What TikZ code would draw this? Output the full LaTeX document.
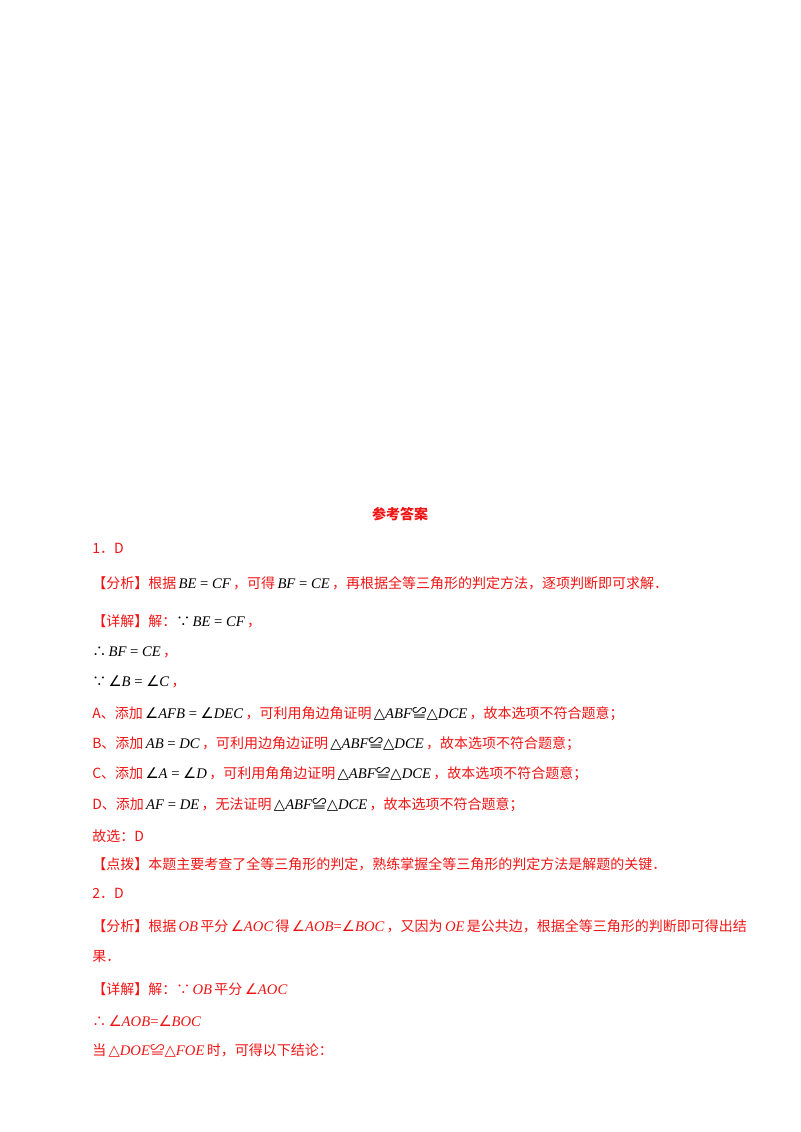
\documentclass[tikz,border=0pt]{standalone}
\usepackage{fontspec}
\setmainfont{Liberation Serif}
\newfontfamily\cjk{Noto Sans CJK SC}
\newfontfamily\lat{Liberation Serif}
\newfontfamily\dv{DejaVu Sans}
\definecolor{ansred}{RGB}{240,20,20}
\newcommand{\gA}{{\dv\upshape∠}}
\newcommand{\gT}{{\dv\upshape△}}
\newcommand{\gC}{{\cjk\upshape≌}}
\newcommand{\mb}[1]{\,\textcolor{black}{\lat\itshape\fontsize{11}{12}\selectfont #1}\,}
\newcommand{\mr}[1]{\,{\lat\itshape\fontsize{11}{12}\selectfont #1}\,}
\begin{document}
\begin{tikzpicture}[x=0.75pt,y=-0.75pt,
  ln/.style={anchor=west,inner sep=0pt,text=ansred,font=\cjk\fontsize{10.5}{12}\selectfont}]
\useasboundingbox (0,0) rectangle (800,1132);
\node[ln,anchor=center,font=\cjk\bfseries\fontsize{10.5}{12}\selectfont] (t) at (400,514) {参考答案};
\node[ln] (a1) at (92,548) {1．D};
\node[ln] (a2) at (92,583) {【分析】根据\mb{BE {\upshape=} CF}，可得\mb{BF {\upshape=} CE}，再根据全等三角形的判定方法，逐项判断即可求解．};
\node[ln] (a3) at (92,621) {【详解】解：\textcolor{black}{∵}\mb{BE {\upshape=} CF}，};
\node[ln] (a4) at (92,652) {\textcolor{black}{∴}\mb{BF {\upshape=} CE}，};
\node[ln] (a5) at (92,682) {\textcolor{black}{∵}\mb{\gA B {\upshape=} \gA C}，};
\node[ln] (a6) at (92,714) {A、添加\mb{\gA AFB {\upshape=} \gA DEC}，可利用角边角证明\mb{\gT ABF\gC\gT DCE}，故本选项不符合题意；};
\node[ln] (a7) at (92,744) {B、添加\mb{AB {\upshape=} DC}，可利用边角边证明\mb{\gT ABF\gC\gT DCE}，故本选项不符合题意；};
\node[ln] (a8) at (92,774) {C、添加\mb{\gA A {\upshape=} \gA D}，可利用角角边证明\mb{\gT ABF\gC\gT DCE}，故本选项不符合题意；};
\node[ln] (a9) at (92,805) {D、添加\mb{AF {\upshape=} DE}，无法证明\mb{\gT ABF\gC\gT DCE}，故本选项不符合题意；};
\node[ln] (a10) at (92,836) {故选：D};
\node[ln] (a11) at (92,864) {【点拨】本题主要考查了全等三角形的判定，熟练掌握全等三角形的判定方法是解题的关键．};
\node[ln] (b1) at (92,893) {2．D};
\node[ln] (b2) at (92,926) {【分析】根据\mr{OB}平分\mr{\gA AOC}得\mr{\gA AOB{\upshape=}\gA BOC}，又因为\mr{OE}是公共边，根据全等三角形的判断即可得出结};
\node[ln] (b3) at (92,957) {果．};
\node[ln] (b4) at (92,989) {【详解】解：∵\mr{OB}平分\mr{\gA AOC}};
\node[ln] (b5) at (92,1021) {∴\mr{\gA AOB{\upshape=}\gA BOC}};
\node[ln] (b6) at (92,1050) {当\mr{\gT DOE\gC\gT FOE}时，可得以下结论：};
\end{tikzpicture}
\end{document}
